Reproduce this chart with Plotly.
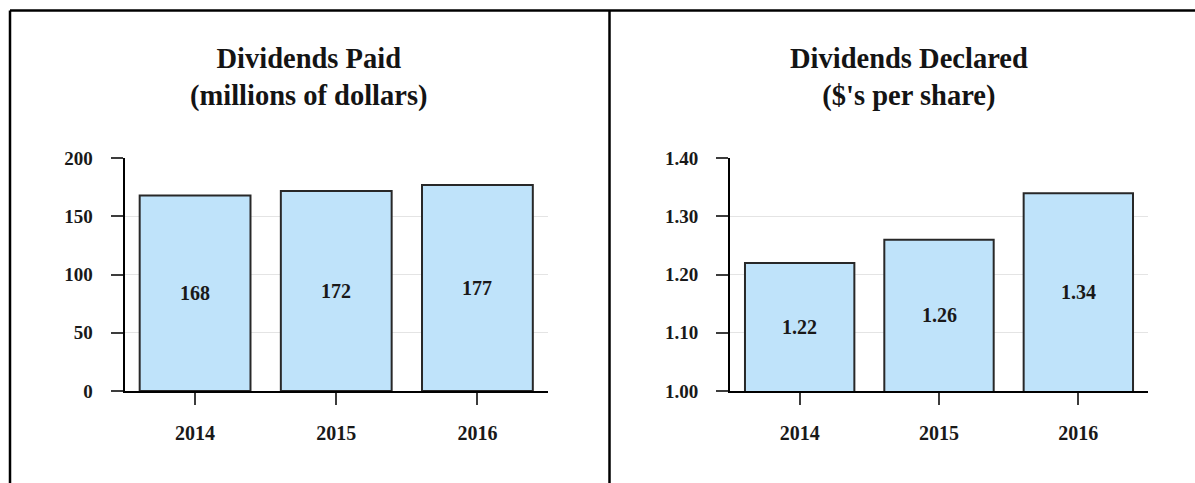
import plotly.graph_objects as go

years = ["2014", "2015", "2016"]
dividends_paid = [168, 172, 177]
dividends_declared = [1.22, 1.26, 1.34]
paid_ticks = [0, 50, 100, 150, 200]
declared_ticks = [1.00, 1.10, 1.20, 1.30, 1.40]
paid_title = "Dividends Paid<br>(millions of dollars)"
declared_title = "Dividends Declared<br>($'s per share)"

W, H = 1195, 483
FONT = "Liberation Serif, Times New Roman, serif"
BAR_FILL = "rgb(191,227,250)"
BAR_LINE = "rgb(40,40,40)"
GRID = "rgb(228,228,228)"


def px_x(p):
    return p / W


def px_y(p):
    return 1 - p / H


fig = go.Figure()

fig.add_trace(go.Bar(
    x=years, y=dividends_paid, xaxis="x", yaxis="y",
    marker=dict(color=BAR_FILL, line=dict(color=BAR_LINE, width=2)),
    hoverinfo="x+y", showlegend=False,
))
fig.add_trace(go.Bar(
    x=years, y=dividends_declared, xaxis="x2", yaxis="y2",
    marker=dict(color=BAR_FILL, line=dict(color=BAR_LINE, width=2)),
    hoverinfo="x+y", showlegend=False,
))

ydom = [px_y(391), px_y(158.3)]

common_x = dict(
    type="category", range=[-0.5, len(years) - 0.5], autorange=False,
    automargin=False,
    showline=True, linecolor="black", linewidth=2,
    ticks="outside", ticklen=12, tickwidth=1.5, tickcolor="rgb(60,60,60)",
    ticklabelstandoff=11, showgrid=False, zeroline=False,
    tickfont=dict(family=FONT, size=20, color="rgb(25,25,25)", weight="bold"),
    fixedrange=True,
)
common_y = dict(
    automargin=False, autorange=False,
    showline=True, linecolor="black", linewidth=2,
    ticks="outside", ticklen=12, tickwidth=1.5, tickcolor="rgb(60,60,60)",
    ticklabelstandoff=14, showgrid=True, gridcolor=GRID, gridwidth=1,
    zeroline=False,
    tickfont=dict(family=FONT, size=19, color="rgb(25,25,25)", weight="bold"),
    fixedrange=True,
)

fig.update_layout(
    width=W, height=H, autosize=False, showlegend=False,
    margin=dict(l=0, r=0, t=0, b=0, pad=0, autoexpand=False),
    paper_bgcolor="white", plot_bgcolor="white",
    bargap=0.215,
    xaxis=dict(domain=[px_x(124.5), px_x(548)], anchor="y", **common_x),
    yaxis=dict(domain=ydom, anchor="x", range=[paid_ticks[0], paid_ticks[-1]],
               tickvals=paid_ticks, ticktext=[str(t) for t in paid_ticks], **common_y),
    xaxis2=dict(domain=[px_x(730), px_x(1148)], anchor="y2", **common_x),
    yaxis2=dict(domain=ydom, anchor="x2", range=[declared_ticks[0], declared_ticks[-1] + 1e-9],
                tickvals=declared_ticks, ticktext=[f"{t:.2f}" for t in declared_ticks], **common_y),
)

annotations = []
label_font = dict(family=FONT, size=20, color="rgb(25,25,25)", weight="bold")
for i, v in enumerate(dividends_paid):
    annotations.append(dict(x=i, y=(paid_ticks[0] + v) / 2, xref="x", yref="y",
                            text=str(v), showarrow=False, font=label_font))
for i, v in enumerate(dividends_declared):
    annotations.append(dict(x=i, y=(declared_ticks[0] + v) / 2, xref="x2", yref="y2",
                            text=f"{v:.2f}", showarrow=False, font=label_font))

title_font = dict(family=FONT, size=28.5, color="rgb(20,20,20)", weight="bold")
annotations.append(dict(x=px_x(309), y=px_y(77), xref="paper", yref="paper",
                        text=paid_title, showarrow=False, font=title_font,
                        xanchor="center", yanchor="middle"))
annotations.append(dict(x=px_x(909), y=px_y(77), xref="paper", yref="paper",
                        text=declared_title, showarrow=False, font=title_font,
                        xanchor="center", yanchor="middle"))
fig.update_layout(annotations=annotations)

border = dict(color="black", width=2.5)
fig.update_layout(shapes=[
    dict(type="line", xref="paper", yref="paper", x0=px_x(10), x1=px_x(W), y0=px_y(10.5), y1=px_y(10.5), line=border),
    dict(type="line", xref="paper", yref="paper", x0=px_x(10), x1=px_x(10), y0=px_y(10.5), y1=px_y(H), line=border),
    dict(type="line", xref="paper", yref="paper", x0=px_x(609.5), x1=px_x(609.5), y0=px_y(10.5), y1=px_y(H), line=border),
])

fig.write_html(
    "out.html",
    config={"displayModeBar": False},
    post_script="document.body.style.margin='0';document.body.style.padding='0';document.body.style.overflow='hidden';",
)
